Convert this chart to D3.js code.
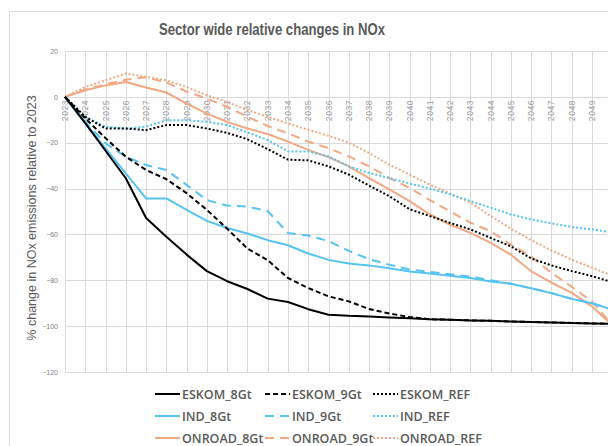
<!DOCTYPE html>
<html>
<head>
<meta charset="utf-8">
<script src="https://cdn.jsdelivr.net/npm/d3@7"></script>
<style>
  body { margin: 0; background: #fff; }
  svg { display: block; font-family: "Liberation Sans", Arial, sans-serif; }
</style>
</head>
<body>
<div id="chart"></div>
<script>
const years = d3.range(2023, 2051);
const yTicks = [20, 0, -20, -40, -60, -80, -100, -120];

const eskom8 = [0, -11.5, -23.5, -35.5, -52.8, -61, -68.8, -76, -80.4, -83.8, -88, -89.5, -92.6, -95, -95.5, -95.8, -96.2, -96.6, -97, -97.2, -97.5, -97.7, -98, -98.2, -98.4, -98.6, -98.8, -99];
const eskom9 = [0, -9.4, -18, -26.1, -31.9, -35.9, -42, -49.3, -57.5, -66.2, -71.2, -79, -83.4, -87, -89.2, -92.5, -94.5, -96, -97, -97.2, -97.5, -97.7, -98, -98.2, -98.4, -98.6, -98.8, -99];
const eskomRef = [0, -8.7, -13.8, -13.8, -14.5, -12.3, -12.3, -13.8, -15.7, -18.5, -22.8, -27.4, -27.7, -30.3, -33.9, -38.7, -43.3, -49, -52, -55, -57.8, -61.5, -65.2, -70.5, -73.5, -76, -78.2, -80.8];
const ind8 = [0, -11.6, -22.5, -33.4, -44.3, -44.3, -49.3, -54.1, -57.2, -59.6, -62.5, -64.7, -68.3, -71.1, -72.7, -73.5, -74.8, -76.2, -77, -78, -79, -80.5, -81.5, -83.5, -85.6, -88.1, -90, -92.8];
const ind9 = [0, -10.9, -20.3, -26.1, -29.7, -31.9, -38.4, -45, -47.4, -47.9, -49.8, -59.4, -60.5, -62.9, -67.2, -70.8, -73.2, -75.3, -76.3, -77.4, -78.4, -80, -81.5, -83.5, -85.6, -88.1, -90, -92.8];
const indRef = [0, -8.7, -13, -13.8, -13, -10.2, -10.2, -10.9, -12.3, -15.5, -18.8, -23.8, -23.8, -26, -30.3, -33.2, -35.4, -37.8, -40, -42.5, -45.4, -48.3, -51.3, -53.5, -55.2, -56.7, -57.8, -59.2];
const onroad8 = [0, 2.9, 5, 6.5, 4.1, 1.9, -2.9, -7.3, -10.9, -13.8, -16.2, -19.5, -23.1, -26.3, -30.3, -35.4, -40.4, -45.5, -51.3, -55.8, -59.3, -63.7, -68.8, -76.1, -81, -85.5, -91.4, -99.5];
const onroad9 = [0, 3.2, 5.5, 7.5, 8.5, 6.3, 2.3, -0.8, -4.3, -8.7, -12.7, -15.9, -19.5, -22.4, -26, -30.3, -35.4, -39.7, -45, -50, -54.9, -58.6, -64.4, -69.6, -76.8, -82.8, -89.3, -99.5];
const onroadRef = [0, 4.3, 7.2, 10.2, 8.7, 7.2, 4.3, 0.7, -2.2, -5.8, -8.7, -11.6, -14.4, -17, -20, -24.5, -29.6, -33.9, -38.3, -42.2, -46.1, -52, -57.5, -62.5, -67, -71, -74.5, -78];

const black = "#000000", blue = "#56c3f0", salmon = "#f2a882";
const solid = null, dash = "5,3", longDash = "9,6", dot = "2,2";

const series = [
  { name: "ESKOM_8Gt", values: eskom8, color: black, dash: solid },
  { name: "ESKOM_9Gt", values: eskom9, color: black, dash: dash },
  { name: "ESKOM_REF", values: eskomRef, color: black, dash: dot },
  { name: "IND_8Gt", values: ind8, color: blue, dash: solid },
  { name: "IND_9Gt", values: ind9, color: blue, dash: longDash },
  { name: "IND_REF", values: indRef, color: blue, dash: dot },
  { name: "ONROAD_8Gt", values: onroad8, color: salmon, dash: solid },
  { name: "ONROAD_9Gt", values: onroad9, color: salmon, dash: longDash },
  { name: "ONROAD_REF", values: onroadRef, color: salmon, dash: dot },
];

const width = 608,
  height = 446;

const x = d3.scalePoint().domain(years).range([65, 612.3]);
const y = d3.scaleLinear().domain([-120, 20]).range([372, 51]);

const svg = d3
  .select("#chart")
  .append("svg")
  .attr("width", width)
  .attr("height", height);

// chart area border
svg
  .append("rect")
  .attr("x", 9.5)
  .attr("y", 11.5)
  .attr("width", 700)
  .attr("height", 500)
  .attr("fill", "none")
  .attr("stroke", "#d9d9d9");

svg
  .append("text")
  .attr("x", 272)
  .attr("y", 35)
  .attr("text-anchor", "middle")
  .attr("fill", "#595959")
  .attr("font-size", 17)
  .attr("font-weight", 700)
  .attr("textLength", 226)
  .attr("lengthAdjust", "spacingAndGlyphs")
  .text("Sector wide relative changes in NOx");

// gridlines
svg
  .append("g")
  .selectAll("line")
  .data(yTicks)
  .join("line")
  .attr("x1", 65)
  .attr("x2", width)
  .attr("y1", (d) => Math.round(y(d)) + 0.5)
  .attr("y2", (d) => Math.round(y(d)) + 0.5)
  .attr("stroke", "#d9d9d9");

svg
  .append("g")
  .selectAll("line")
  .data(years)
  .join("line")
  .attr("x1", (d) => Math.round(x(d)) + 0.5)
  .attr("x2", (d) => Math.round(x(d)) + 0.5)
  .attr("y1", y(20))
  .attr("y2", y(-120))
  .attr("stroke", "#d9d9d9");

// y axis
const yAxis = svg
  .append("g")
  .attr("transform", "translate(58,0)")
  .call(d3.axisLeft(y).tickValues(yTicks).tickSize(0).tickPadding(0));
yAxis.select(".domain").remove();
yAxis
  .selectAll("text")
  .attr("fill", "#7f7f7f")
  .attr("font-size", 7);

svg
  .append("text")
  .attr("transform", "translate(36,218) rotate(-90)")
  .attr("text-anchor", "middle")
  .attr("fill", "#595959")
  .attr("font-size", 12.5)
  .text("% change in NOx emissions relative to 2023");

// category labels sitting just under the zero line
svg
  .append("g")
  .selectAll("text")
  .data(years.slice(0, -1))
  .join("text")
  .attr("transform", (d) => `translate(${x(d) + 3},${y(0) + 3}) rotate(-90)`)
  .attr("text-anchor", "end")
  .attr("fill", "#9a9a9a")
  .attr("font-size", 8.5)
  .attr("letter-spacing", 0.6)
  .text((d) => d);

// lines
const line = d3
  .line()
  .x((d, i) => x(years[i]))
  .y((d) => y(d));

svg
  .append("g")
  .selectAll("path")
  .data(series.slice().reverse())
  .join("path")
  .attr("fill", "none")
  .attr("stroke", (d) => d.color)
  .attr("stroke-width", 2)
  .attr("stroke-dasharray", (d) => d.dash)
  .attr("stroke-linejoin", "round")
  .attr("d", (d) => line(d.values));

// legend, 3 x 3
const colX = [155, 265, 373];
const rowY = [394, 416, 438];

const legend = svg
  .append("g")
  .selectAll("g")
  .data(series)
  .join("g")
  .attr("transform", (d, i) => `translate(${colX[i % 3]},${rowY[Math.floor(i / 3)]})`);

legend
  .append("line")
  .attr("x1", 0)
  .attr("x2", 25)
  .attr("stroke", (d) => d.color)
  .attr("stroke-width", 2)
  .attr("stroke-dasharray", (d) => d.dash);

legend
  .append("text")
  .attr("x", 27)
  .attr("y", 4.5)
  .attr("fill", "#595959")
  .attr("font-size", 12.5)
  .attr("font-family", "'Open Sans', sans-serif")
  .attr("font-weight", 600)
  .text((d) => d.name);
</script>
</body>
</html>
